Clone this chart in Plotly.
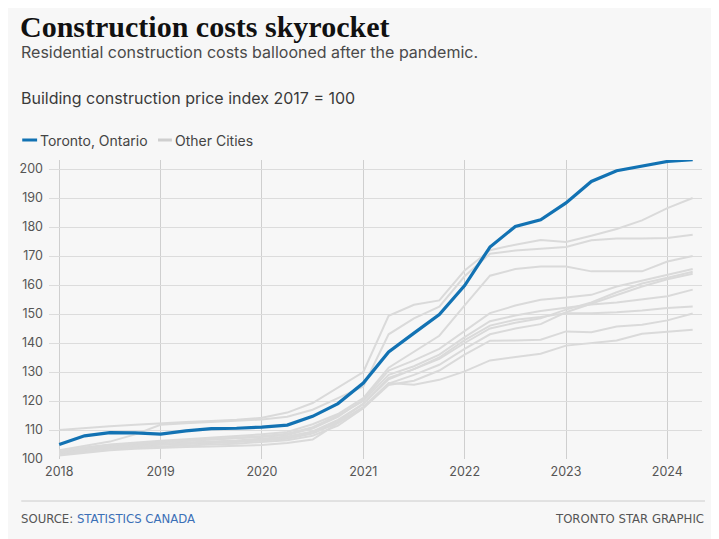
import plotly.graph_objects as go

# ---- data ----
quarters = [2018 + i * 0.25 for i in range(26)]  # 2018 Q1 .. 2024 Q2

toronto = [105.0, 108.0, 109.1, 109.0, 108.6, 109.7, 110.5, 110.6, 111.0, 111.7, 114.7, 119.1, 126.2,
           136.9, 143.4, 149.8, 159.8, 173.1, 180.2, 182.5, 188.3, 195.7, 199.4, 201.1, 202.6, 203.2]

city_a = [110.0, 110.7, 111.3, 111.8, 112.4, 112.8, 113.1, 113.5, 114.2, 116.0, 119.3, 124.5, 130.0,
          149.4, 153.2, 154.7, 165.0, 172.0, 173.9, 175.5, 174.8, 177.0, 179.3, 182.3, 186.5, 190.0]
city_b = [103.0, 104.5, 106.0, 108.5, 111.8, 112.3, 112.8, 113.2, 113.6, 114.6, 117.0, 121.0, 125.0,
          143.0, 148.5, 152.5, 163.0, 170.8, 171.9, 172.5, 173.1, 175.4, 176.0, 176.0, 176.2, 177.3]
city_c = [102.5, 104.0, 105.0, 105.7, 106.3, 106.8, 107.3, 107.8, 108.5, 109.3, 112.0, 115.5, 121.0,
          131.5, 137.0, 142.5, 153.0, 163.2, 165.5, 166.4, 166.4, 164.7, 164.7, 164.7, 168.1, 170.0]
city_d = [102.0, 103.5, 104.5, 105.2, 105.8, 106.2, 106.6, 107.0, 107.6, 108.3, 110.5, 114.5, 120.5,
          130.5, 134.0, 138.0, 144.0, 150.3, 152.9, 154.9, 155.7, 156.6, 159.5, 161.5, 163.5, 165.5]
city_e = [101.8, 103.2, 104.2, 104.8, 105.3, 105.7, 106.0, 106.4, 107.0, 107.8, 109.5, 113.5, 119.0,
          127.5, 131.0, 134.5, 140.0, 145.0, 147.0, 148.5, 151.5, 154.0, 157.5, 160.5, 162.5, 164.6]
city_f = [101.5, 102.8, 103.8, 104.4, 104.9, 105.2, 105.5, 105.9, 106.4, 107.0, 108.8, 112.5, 118.0,
          126.0, 129.0, 132.5, 138.0, 143.0, 145.0, 146.5, 150.6, 153.5, 156.5, 159.5, 162.0, 163.9]
city_g = [102.2, 103.8, 104.8, 105.4, 106.0, 106.4, 106.9, 107.3, 107.9, 108.7, 111.0, 115.0, 120.0,
          129.0, 132.0, 136.0, 142.0, 147.5, 149.5, 151.0, 152.2, 153.3, 154.0, 155.0, 156.1, 158.4]
city_h = [101.8, 103.0, 104.0, 104.6, 105.1, 105.5, 105.8, 106.1, 106.7, 107.4, 109.0, 113.0, 119.0,
          128.0, 131.0, 135.0, 141.0, 146.0, 148.0, 149.0, 150.3, 150.3, 150.6, 151.2, 152.1, 152.6]
city_i = [101.5, 102.5, 103.5, 104.0, 104.4, 104.7, 105.0, 105.3, 105.9, 106.5, 108.0, 111.5, 117.5,
          125.5, 127.0, 130.5, 136.0, 140.8, 140.9, 141.1, 144.0, 143.7, 145.7, 146.3, 147.8, 150.2]
city_j = [101.2, 102.2, 103.0, 103.5, 103.9, 104.1, 104.3, 104.5, 104.8, 105.5, 106.7, 112.4, 117.6,
          126.2, 125.6, 127.3, 130.2, 134.0, 135.2, 136.3, 139.1, 140.0, 140.9, 143.2, 144.0, 144.6]

other_cities = [city_a, city_b, city_c, city_d, city_e, city_f, city_g, city_h, city_i, city_j]

x_ticks = [2018, 2019, 2020, 2021, 2022, 2023, 2024]
x_tick_labels = ["2018", "2019", "2020", "2021", "2022", "2023", "2024"]
y_ticks = list(range(100, 201, 10))

# ---- styling ----
OFF = 8  # default page body margin
W, H = 719 - OFF, 539 - OFF
# plot area in page pixels: x 43..702, y 160..459.3
ML, MR = 43 - OFF, 719 - 702
MT, MB = 160 - OFF, 539 - 459
PW, PH = W - ML - MR, H - MT - MB
BG = "#f7f7f7"
BLUE = "#1272b3"
GREY = "#dadada"
SANS = "Inter, Roboto, 'Noto Sans', sans-serif"
NARROW = "'Liberation Sans Narrow', 'DejaVu Sans Condensed', Roboto, sans-serif"


def px(xp):
    # page pixel x -> paper fraction
    return (xp - OFF - ML) / PW


def py(yp):
    # page pixel y -> paper fraction
    return (H - MB - (yp - OFF)) / PH


fig = go.Figure()
for s in other_cities:
    fig.add_trace(go.Scatter(x=quarters, y=s, mode="lines", showlegend=False, hoverinfo="skip",
                             line=dict(color=GREY, width=2)))
fig.add_trace(go.Scatter(x=quarters, y=toronto, mode="lines", showlegend=False, name="Toronto, Ontario",
                         line=dict(color=BLUE, width=3.2)))

annotations = [
    dict(text="<b>Construction costs skyrocket</b>", x=px(12), y=py(8), xanchor="left", yanchor="top",
         font=dict(family="'Liberation Serif', 'DejaVu Serif', serif", size=30, color="#111111")),
    dict(text="Residential construction costs ballooned after the pandemic.", x=px(13), y=py(52),
         xanchor="left", yanchor="middle", font=dict(family=SANS, size=16, color="#4a4a4a")),
    dict(text="Building construction price index 2017 = 100", x=px(13), y=py(98),
         xanchor="left", yanchor="middle", font=dict(family=SANS, size=16, color="#3a3a3a")),
    dict(text="Toronto, Ontario", x=px(32), y=py(140), xanchor="left", yanchor="middle",
         font=dict(family=SANS, size=14, color="#444444")),
    dict(text="Other Cities", x=px(168), y=py(140), xanchor="left", yanchor="middle",
         font=dict(family=SANS, size=14, color="#444444")),
    dict(text="SOURCE: <span style='color:#3b6fb6'>STATISTICS CANADA</span>", x=px(13), y=py(518),
         xanchor="left", yanchor="middle", font=dict(family=NARROW, size=13, color="#555555")),
    dict(text="TORONTO STAR GRAPHIC", x=px(706), y=py(518), xanchor="right", yanchor="middle",
         font=dict(family=NARROW, size=13, color="#555555")),
]
for a in annotations:
    a.update(xref="paper", yref="paper", showarrow=False)

shapes = [
    dict(type="line", xref="paper", yref="paper", x0=px(16), x1=px(31), y0=py(140), y1=py(140),
         line=dict(color=BLUE, width=3)),
    dict(type="line", xref="paper", yref="paper", x0=px(153), x1=px(167), y0=py(140), y1=py(140),
         line=dict(color="#cfcfcf", width=3)),
    dict(type="line", xref="paper", yref="paper", x0=px(15), x1=px(705), y0=py(501), y1=py(501),
         line=dict(color="#cccccc", width=1)),
]

fig.update_layout(
    width=W, height=H,
    margin=dict(l=ML, r=MR, t=MT, b=MB),
    paper_bgcolor=BG, plot_bgcolor=BG,
    annotations=annotations, shapes=shapes,
    showlegend=False,
    xaxis=dict(range=[2018 - 10.3 / 102.4, 2018 + 649.4 / 102.4], tickvals=x_ticks, ticktext=x_tick_labels,
               showgrid=True, gridcolor="#cfcfcf", gridwidth=1, zeroline=False, showline=False,
               ticks="", ticklabelstandoff=3, tickfont=dict(family=SANS, size=12.5, color="#555555")),
    yaxis=dict(range=[100, 100 + PH / 2.9], tickvals=y_ticks, showgrid=True, gridcolor="#dcdcdc", gridwidth=1,
               zeroline=False, showline=False, ticks="", ticklabelstandoff=5,
               tickfont=dict(family=SANS, size=12.5, color="#555555")),
)

fig.write_html("out.html")
